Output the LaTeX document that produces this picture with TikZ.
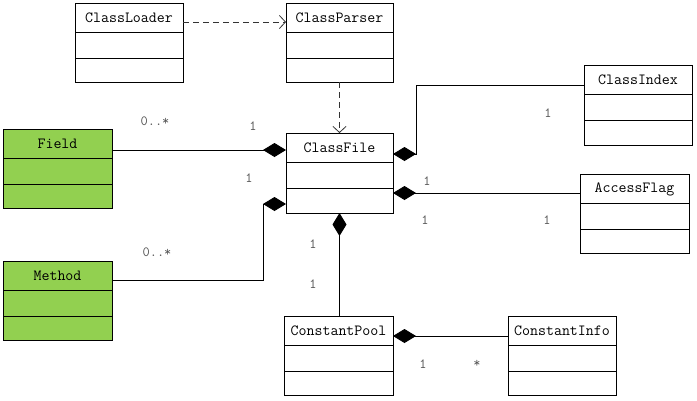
\documentclass[tikz,border=0pt]{standalone}
\usetikzlibrary{arrows.meta}
\definecolor{boxgreen}{RGB}{146,208,80}
\definecolor{lblgray}{RGB}{85,85,85}
\tikzset{
  classbox/.style={draw=black, line width=0.9pt, inner sep=0pt, outer sep=0pt},
  titletext/.style={font=\ttfamily\fontsize{15.5}{17}\selectfont, inner sep=0pt},
  mult/.style={font=\ttfamily\fontsize{14}{16}\selectfont, text=lblgray, inner sep=0pt},
  comp/.style={draw=black, line width=0.9pt, {Diamond[length=23pt,width=14pt]}-},
  dep/.style={draw=black!80, line width=0.8pt, dash pattern=on 6pt off 4pt, -{Straight Barb[length=6pt,width=13pt,line width=0.8pt]}},
}
% name, x1, y1, x2, y2, title, fill
\newcommand{\umlbox}[7]{%
  \pgfmathsetmacro{\bw}{#4-#2}\pgfmathsetmacro{\bh}{#5-#3}%
  \pgfmathsetmacro{\cx}{(#2+#4)/2}\pgfmathsetmacro{\cy}{(#3+#5)/2}%
  \pgfmathsetmacro{\ra}{#3+29}\pgfmathsetmacro{\rb}{#3+55}\pgfmathsetmacro{\ty}{#3+15}%
  \node[classbox, fill=#7, minimum width=\bw pt, minimum height=\bh pt] (#1) at (\cx,\cy) {};
  \node[titletext] (#1-t) at (\cx,\ty) {#6};
  \draw[line width=0.9pt] (#2,\ra) -- (#4,\ra) (#2,\rb) -- (#4,\rb);
}
\begin{document}
\begin{tikzpicture}[x=1pt,y=-1pt]
\useasboundingbox (0,0) rectangle (697,400);
\fill[white] (0,0) rectangle (697,400);

\umlbox{loader}{75}{3}{183}{82}{ClassLoader}{white}
\umlbox{parser}{286}{3}{393}{82}{ClassParser}{white}
\umlbox{field}{3}{129}{112}{208}{Field}{boxgreen}
\umlbox{cf}{286}{133}{393}{213}{ClassFile}{white}
\umlbox{cindex}{584}{65}{692}{145}{ClassIndex}{white}
\umlbox{aflag}{580}{174}{689}{253}{AccessFlag}{white}
\umlbox{method}{3}{261}{112}{340}{Method}{boxgreen}
\umlbox{cpool}{284}{316}{393}{395}{ConstantPool}{white}
\umlbox{cinfo}{508}{316}{616}{395}{ConstantInfo}{white}

\coordinate (mbend) at (263,204);
\coordinate (ibend) at (416,154);

% dependencies
\draw[dep] (loader.east |- 0,22) -- (parser.west |- 0,22);
\draw[dep] (parser.south) -- (cf.north);

% compositions
\draw[comp] (cf.west |- 0,150) -- (field.east |- 0,150);
\draw[comp] (cf.west |- mbend) -- (mbend) -- (mbend |- 0,280) -- (method.east |- 0,280);
\draw[comp] (cf.east |- ibend) -- (ibend) -- (ibend |- 0,85) -- (cindex.west |- 0,85);
\draw[comp] (cf.east |- 0,193) -- (aflag.west |- 0,193);
\draw[comp] (cf.south) -- (cpool.north -| cf.south);
\draw[comp] (cpool.east |- 0,336) -- (cinfo.west |- 0,336);

% multiplicities
\node[mult] (m1) at (155,121) {0..*};
\node[mult] (m2) at (253,126) {1};
\node[mult] (m3) at (249,178) {1};
\node[mult] (m4) at (157,252) {0..*};
\node[mult] (m5) at (548,113) {1};
\node[mult] (m6) at (427,181) {1};
\node[mult] (m7) at (425,220) {1};
\node[mult] (m8) at (547,220) {1};
\node[mult] (m9) at (313,244) {1};
\node[mult] (m10) at (313,284) {1};
\node[mult] (m11) at (423,364) {1};
\node[mult] (m12) at (477,364) {*};
\end{tikzpicture}
\end{document}
